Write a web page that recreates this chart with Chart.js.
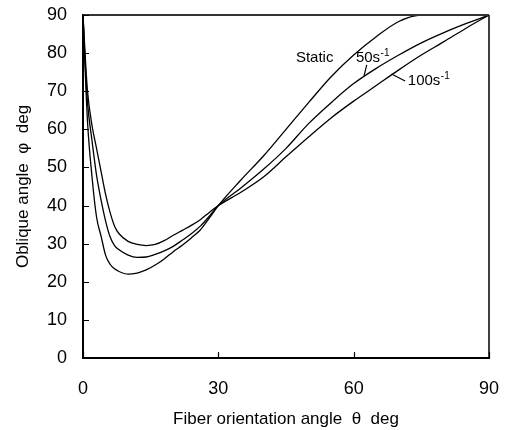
<!DOCTYPE html>
<html>
<head>
<meta charset="utf-8">
<script src="https://cdn.jsdelivr.net/npm/chart.js@4/dist/chart.umd.min.js"></script>
<style>
  html,body{margin:0;padding:0;background:#fff;}
  #wrap{width:506px;height:430px;}
</style>
</head>
<body>
<div id="wrap"><canvas id="c" width="506" height="430"></canvas></div>
<script>
const theta = [0,0.5,1,2,3,4,5,6,7,8,10,12,14,16,18,20,22,24,26,28,30,35,40,45,50,55,60,65,70,75,80,85,90];
const phiStatic = [90,75,62,47.5,37,32,27,24.6,23.4,22.7,22.0,22.3,23.1,24.4,26,27.9,29.6,31.5,33.6,36.7,40,46.7,53,60,67,73.8,79.5,84.3,88.3,90,90,90,90];
const phi50 = [90,77,67,57,48,41.5,36,31.8,29.5,28.4,27,26.4,26.5,27.2,28.1,29.3,30.9,32.6,34.6,37.2,40,44.6,49.5,55,61.5,67,72,76,79.5,82.7,85.4,87.8,90];
const phi100 = [90,79,70,61,55,49,43,38.2,34.6,32.6,30.6,29.8,29.5,29.8,30.8,32.2,33.5,34.8,36.3,38.2,40,43.5,47.5,52.8,58,63,67.4,71.5,75.6,79.5,83,86.6,90];
const seriesNames = ['Static','50s','100s'];
const xTicks = [0,30,60,90];
const yTicks = [0,10,20,30,40,50,60,70,80,90];

// annotation labels (data coordinates)
const labels = [
  {text:'Static', sup:'', x:47.2, y:78.7},
  {text:'50s', sup:'-1', x:60.5, y:78.7},
  {text:'100s', sup:'-1', x:72.0, y:72.7}
];
const leaders = [
  [62.9,76.9,62.3,74.0],
  [68.4,74.5,71.4,72.7]
];

function mk(arr){ return theta.map((t,i)=>({x:t,y:arr[i]})); }

const FONT = "'Liberation Sans', Arial, sans-serif";

const decor = {
  id:'decor',
  afterDraw(chart){
    const ctx = chart.ctx, a = chart.chartArea;
    const xs = chart.scales.x, ys = chart.scales.y;
    ctx.save();
    // top and right border
    ctx.strokeStyle = '#333';
    ctx.lineWidth = 2;
    ctx.beginPath();
    ctx.moveTo(a.left, a.top); ctx.lineTo(a.right, a.top);
    ctx.stroke();
    ctx.strokeStyle = '#000';
    ctx.lineWidth = 1.5;
    ctx.beginPath();
    ctx.moveTo(a.right, a.top); ctx.lineTo(a.right, a.bottom);
    ctx.stroke();
    // inward ticks
    ctx.lineWidth = 1.2;
    ctx.strokeStyle = '#000';
    ctx.beginPath();
    yTicks.forEach(v=>{
      const py = Math.round(ys.getPixelForValue(v))+0.5;
      ctx.moveTo(a.left, py); ctx.lineTo(a.left+6, py);
    });
    xTicks.forEach(v=>{
      const px = Math.round(xs.getPixelForValue(v))+0.5;
      ctx.moveTo(px, a.bottom); ctx.lineTo(px, a.bottom-6);
    });
    ctx.stroke();
    // leader lines
    ctx.lineWidth = 1.2;
    ctx.beginPath();
    leaders.forEach(l=>{
      ctx.moveTo(xs.getPixelForValue(l[0]), ys.getPixelForValue(l[1]));
      ctx.lineTo(xs.getPixelForValue(l[2]), ys.getPixelForValue(l[3]));
    });
    ctx.stroke();
    // labels
    ctx.fillStyle = '#000';
    ctx.textBaseline = 'middle';
    ctx.textAlign = 'left';
    labels.forEach(l=>{
      const px = xs.getPixelForValue(l.x), py = ys.getPixelForValue(l.y);
      ctx.font = "15px " + FONT;
      ctx.fillText(l.text, px, py);
      if (l.sup){
        const w = ctx.measureText(l.text).width;
        ctx.font = "10px " + FONT;
        ctx.fillText(l.sup, px + w + 0.5, py - 5);
      }
    });
    ctx.restore();
  }
};

const ds = (name, arr) => ({
  label: name,
  data: mk(arr),
  borderColor: '#000',
  borderWidth: 1.3,
  pointRadius: 0,
  fill: false,
  cubicInterpolationMode: 'monotone'
});

new Chart(document.getElementById('c'), {
  type: 'line',
  data: {
    datasets: [ds(seriesNames[0], phiStatic), ds(seriesNames[1], phi50), ds(seriesNames[2], phi100)]
  },
  options: {
    responsive: false,
    animation: false,
    layout: { padding: { left: 0, right: 17, top: 15, bottom: 0 } },
    plugins: { legend: { display: false }, tooltip: { enabled: false } },
    scales: {
      x: {
        type: 'linear', min: 0, max: 90,
        afterBuildTicks: s => { s.ticks = xTicks.map(v=>({value:v})); },
        afterFit: s => { s.height = 72; s.paddingLeft = 0; s.paddingRight = 0; },
        grid: { display: false, drawTicks: false },
        border: { display: true, color: '#000', width: 2 },
        ticks: { color: '#000', font: { family: FONT, size: 18 }, padding: 20, maxRotation: 0 },
        title: { display: true, text: 'Fiber orientation angle  θ  deg', color: '#000',
                 font: { family: FONT, size: 17 }, padding: { top: 0, bottom: 0 } }
      },
      y: {
        type: 'linear', min: 0, max: 90,
        afterBuildTicks: s => { s.ticks = yTicks.map(v=>({value:v})); },
        afterFit: s => { s.width = 83; s.paddingTop = 0; s.paddingBottom = 0; },
        grid: { display: false, drawTicks: false },
        border: { display: true, color: '#000', width: 2 },
        ticks: { color: '#000', font: { family: FONT, size: 18 }, padding: 16 },
        title: { display: true, text: 'Oblique angle  φ  deg', color: '#000',
                 font: { family: FONT, size: 17 }, padding: { top: 13, bottom: 0 } }
      }
    }
  },
  plugins: [decor]
});
</script>
</body>
</html>
